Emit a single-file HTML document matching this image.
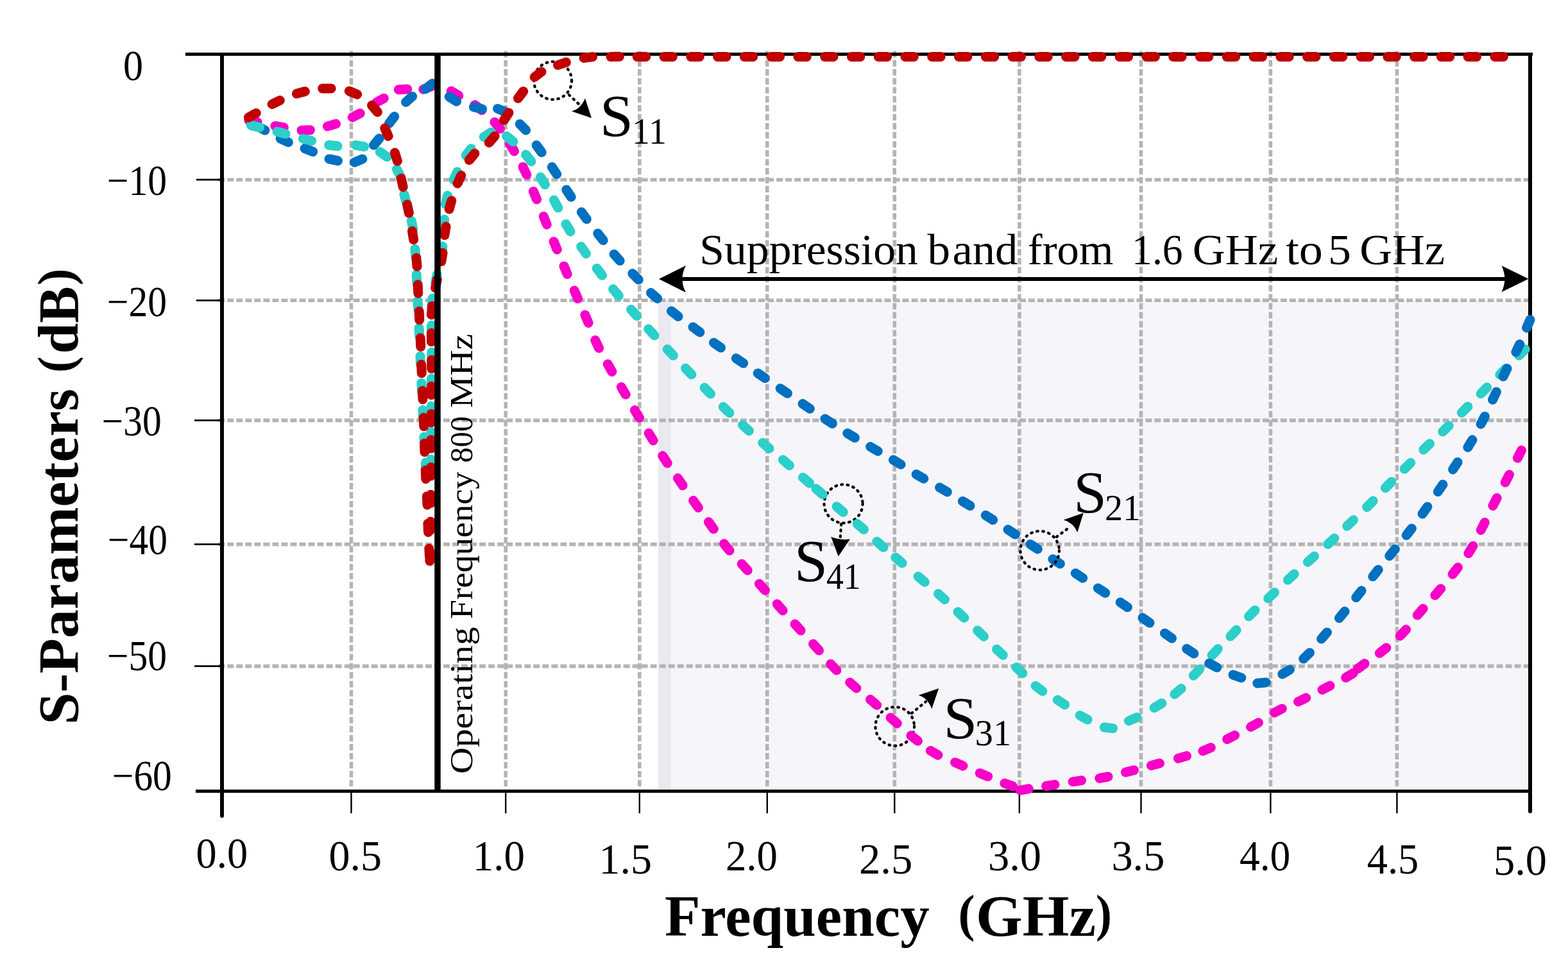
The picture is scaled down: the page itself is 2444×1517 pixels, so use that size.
<!DOCTYPE html>
<html><head><meta charset="utf-8"><title>S-Parameters</title>
<style>html,body{margin:0;padding:0;background:#fff;}svg{display:block;}</style>
</head><body>
<svg xmlns="http://www.w3.org/2000/svg" width="2444" height="1517" viewBox="0 0 2444 1517">
<rect width="2444" height="1517" fill="#fff"/>
<style>text{font-family:"Liberation Serif","Times New Roman",serif;fill:#000}</style>
<rect x="1026" y="468.3" width="1359" height="765.1000000000001" fill="#F6F5F9"/>
<rect x="1026" y="468.3" width="20" height="765.1000000000001" fill="#EBE9F0"/>
<path d="M340.3 280.2H2382M340.3 468.3H2382M340.3 655.4H2382M340.3 848.6H2382M340.3 1038.6H2382M547.5 79.6V1226M788.2 79.6V1226M996.8 79.6V1226M1195.8 79.6V1226M1394.3 79.6V1226M1588.9 79.6V1226M1778.5 79.6V1226M1980.4 79.6V1226M2177.4 79.6V1226" stroke="#B4B4B4" stroke-width="5.6" stroke-dasharray="10 4.03" fill="none"/>
<path d="M306 280.2H346M306 468.3H346M303 655.4H346M303 848.6H346M303 1038.6H346" stroke="#000" stroke-width="2.8" fill="none"/>
<path d="M547.5 1233.4V1268M788.2 1233.4V1268M996.8 1233.4V1268M1195.8 1233.4V1268M1394.3 1233.4V1268M1588.9 1233.4V1268M1778.5 1233.4V1268M1980.4 1233.4V1268M2177.4 1233.4V1268" stroke="#000" stroke-width="2.4" fill="none"/>
<path d="M289 84.4H2389" stroke="#000" stroke-width="5" fill="none"/>
<path d="M305 1233.4H2388" stroke="#000" stroke-width="5" fill="none"/>
<path d="M346 85V1272" stroke="#000" stroke-width="6" stroke-linecap="round" fill="none"/>
<path d="M2385 85V1265" stroke="#000" stroke-width="6" stroke-linecap="round" fill="none"/>
<circle cx="861.6" cy="125.7" r="29.5" stroke="#000" stroke-width="4.3" stroke-dasharray="1.6 7.6" stroke-linecap="round" fill="none"/><path d="M887 148L903 163" stroke="#000" stroke-width="4.3" stroke-dasharray="1.6 7.6" stroke-linecap="round" fill="none"/><path d="M922.0 184.0L891.0 173.4Q905.0 170.0 912.0 153.3Z" fill="#000"/>
<circle cx="1394.8" cy="1132.5" r="30.3" stroke="#000" stroke-width="4.3" stroke-dasharray="1.6 7.6" stroke-linecap="round" fill="none"/><path d="M1421 1112L1443 1094" stroke="#000" stroke-width="4.3" stroke-dasharray="1.6 7.6" stroke-linecap="round" fill="none"/><path d="M1463.2 1073.2L1431.6 1084.0Q1446.0 1088.0 1452.3 1105.2Z" fill="#000"/>
<circle cx="1314.6" cy="785.4" r="30" stroke="#000" stroke-width="4.3" stroke-dasharray="1.6 7.6" stroke-linecap="round" fill="none"/><path d="M1311.2 817L1309.8 838" stroke="#000" stroke-width="4.3" stroke-dasharray="1.6 7.6" stroke-linecap="round" fill="none"/><path d="M1306.7 867.6L1295.2 836.8Q1310.0 843.0 1325.0 840.4Z" fill="#000"/>
<path d="M387.9 187.6L401.1 190.4M428.9 196.5L442.3 198.7M470.0 203.2L483.4 202.8M510.5 196.9L523.5 193.1M549.3 182.9L561.3 176.7M586.5 159.8L598.3 153.2M621.3 139.7L634.7 138.9M659.7 139.3L672.3 134.7M703.2 142.0L714.8 149.0M740.2 163.6L751.0 171.8M771.0 190.4L779.6 200.8M794.5 224.2L801.5 235.8M815.1 260.2L820.9 272.4M831.4 298.4L836.6 310.8M847.3 337.4L852.3 350.0M863.1 376.7L868.3 389.1M879.0 415.0L884.2 427.4M895.2 453.0L900.6 465.4M911.9 491.0L917.1 503.4M927.8 530.5L933.6 542.7M947.3 567.7L953.9 579.5M968.4 603.5L975.2 615.1M989.4 639.6L996.4 651.2M1011.2 675.3L1018.2 686.9M1032.8 710.7L1040.2 722.1M1056.5 745.6L1064.1 756.8M1080.6 780.5L1088.4 791.5M1104.5 813.8L1112.3 824.8M1128.6 847.8L1137.0 858.4M1156.2 879.3L1165.2 889.3M1183.5 910.2L1192.5 920.4M1211.2 941.8L1220.2 952.0M1239.1 973.1L1248.1 983.1M1267.5 1004.1L1276.5 1014.1M1294.6 1035.3L1304.0 1044.9M1324.7 1064.0L1334.9 1073.0M1356.5 1090.6L1366.7 1099.4M1388.1 1118.9L1398.3 1127.9M1419.9 1146.8L1430.5 1155.2M1450.4 1170.4L1462.0 1177.2M1488.6 1188.7L1501.0 1194.1M1527.3 1205.4L1539.7 1210.6M1565.9 1221.2L1578.5 1225.8M1590.1 1232.2L1603.3 1229.8M1630.6 1225.5L1644.0 1223.3M1672.2 1218.8L1685.6 1216.8M1713.8 1213.4L1727.0 1211.0M1754.5 1204.1L1767.5 1200.7M1794.5 1193.5L1807.5 1190.1M1836.5 1182.4L1849.5 1178.6M1874.9 1170.8L1887.3 1165.6M1912.6 1152.5L1924.6 1146.3M1949.6 1133.3L1961.4 1126.7M1986.3 1111.1L1998.3 1104.9M2023.5 1093.9L2035.7 1088.1M2061.0 1075.3L2073.0 1069.1M2097.6 1056.5L2109.2 1049.5M2116.3 1042.6L2127.1 1034.6M2150.3 1018.3L2160.9 1009.9M2182.2 991.4L2191.6 981.6M2209.3 959.1L2218.1 948.9M2236.8 928.1L2245.6 917.9M2264.2 895.2L2272.4 884.6M2288.9 862.6L2295.9 851.2M2308.2 826.5L2314.2 814.5M2326.9 788.5L2333.1 776.5M2346.2 752.1L2352.4 740.1M2365.4 714.1L2371.4 702.1" stroke="#F800C8" stroke-width="15.0" stroke-linecap="round" fill="none"/>
<path d="M401.0 196.9L413.0 203.1M437.2 216.2L449.4 221.8M475.1 231.5L487.7 236.5M513.2 247.9L526.4 250.7M552.5 253.1L564.9 247.9M582.6 226.3L591.2 215.9M606.5 192.4L614.7 181.6M632.6 159.3L642.6 150.3M663.4 138.7L673.8 130.3M700.2 150.9L711.6 158.1M738.4 167.0L751.6 170.0M775.6 169.4L788.0 174.6M810.3 193.4L819.7 203.0M836.2 226.5L844.2 237.5M860.3 260.4L867.7 271.6M882.8 295.9L890.2 307.1M906.4 330.7L914.4 341.7M931.8 364.0L940.2 374.6M957.2 396.4L966.2 406.6M985.9 426.5L995.3 436.1" stroke="#0070C0" stroke-width="15.0" stroke-linecap="round" fill="none"/>
<path d="M391.4 195.4L404.6 198.6M432.1 205.3L445.1 208.7M472.4 216.3L485.6 219.5M512.7 226.2L526.1 227.8M554.4 226.3L567.6 228.7M592.3 236.9L603.3 244.7M618.5 263.7L624.5 275.9M630.0 303.1L633.4 316.1M641.4 344.4L643.8 357.6M646.9 388.3L648.1 401.7M649.2 427.9L649.8 441.3M651.2 469.3L651.8 482.7M653.2 511.3L653.8 524.7M655.0 555.3L655.6 568.7M656.9 597.3L657.5 610.7M658.9 639.3L659.5 652.7M660.9 681.3L661.7 694.7M663.5 721.2L663.5 734.8M671.7 729.8L671.7 716.2M671.9 686.7L671.9 673.3M672.1 646.7L672.1 633.3M672.4 603.7L672.4 590.3M672.7 562.8L672.7 549.2M672.3 520.7L672.5 507.3M672.9 478.7L674.1 465.3M678.7 441.2L681.3 428.0M688.1 397.7L689.9 384.3M691.4 355.7L692.6 342.3M694.4 318.2L697.6 305.0M707.2 280.1L712.8 267.9M726.2 242.3L734.4 231.7M754.3 213.4L765.7 206.2M789.6 212.3L800.0 220.9M819.6 241.1L828.0 251.7M842.5 276.2L849.5 287.8M863.5 312.0L869.9 323.8M882.1 349.4L889.1 361.0M905.7 384.5L913.5 395.5M930.3 418.4L938.5 429.2M955.6 450.8L964.4 461.2M983.6 482.5L992.6 492.5M1010.8 513.0L1020.0 523.0M1040.2 544.5L1049.4 554.3M1068.5 574.3L1077.9 583.9M1098.1 604.5L1107.5 614.1M1127.3 634.3L1136.9 643.7M1157.5 662.8L1167.5 671.8M1188.8 690.4L1199.0 699.2M1220.3 716.9L1230.5 725.7M1251.5 744.4L1261.7 753.2M1272.1 762.1L1282.3 770.9M1304.1 789.7L1314.3 798.5M1336.2 816.7L1346.4 825.5M1366.9 844.3L1377.1 853.3M1395.8 869.1L1406.2 877.9M1431.2 898.8L1441.4 907.6M1462.5 925.7L1472.5 934.7M1493.1 954.0L1502.9 963.2M1523.7 983.0L1533.5 992.4M1553.5 1012.2L1563.3 1021.4M1584.1 1040.5L1593.9 1049.7M1614.1 1069.4L1624.9 1077.6M1648.3 1091.3L1659.7 1098.7M1683.3 1115.5L1695.1 1121.9M1721.3 1134.0L1734.7 1135.6M1759.5 1124.0L1771.9 1118.4M1799.2 1103.5L1810.8 1096.5M1830.9 1082.4L1841.1 1073.6M1860.3 1053.4L1869.5 1043.6M1889.1 1021.6L1898.3 1011.8M1917.8 992.1L1927.2 982.3M1946.5 961.0L1956.1 951.4M1976.7 932.9L1986.5 923.7M2007.3 904.2L2017.3 895.0M2038.4 876.3L2048.4 867.3M2069.8 848.4L2079.8 839.2M2099.7 820.2L2109.5 810.8M2130.6 790.6L2140.2 781.0M2159.4 760.8L2168.8 751.2M2189.1 731.1L2198.7 721.5M2218.8 701.2L2228.4 691.8M2248.6 673.1L2258.2 663.7M2278.3 643.5L2287.9 633.9M2308.1 613.7L2317.7 604.1M2337.8 584.0L2347.4 574.4M2367.6 554.2L2377.2 544.6" stroke="#2CCFC9" stroke-width="15.0" stroke-linecap="round" fill="none"/>
<path d="M1014.5 456.6L1024.7 465.4M1046.5 485.0L1057.1 493.4M1080.1 510.0L1090.9 518.0M1112.5 534.3L1123.5 542.1M1147.4 558.7L1158.6 566.3M1181.3 582.0L1192.5 589.6M1216.2 605.7L1227.4 613.3M1251.1 629.6L1262.3 637.2M1285.9 653.0L1297.3 660.4M1320.8 675.5L1332.4 682.5M1356.7 696.6L1368.3 703.4M1392.5 717.1L1404.1 724.1M1428.2 739.5L1439.8 746.3M1464.7 760.1L1476.3 766.9M1500.4 781.5L1512.0 788.5M1536.3 803.4L1547.7 810.6M1571.1 825.7L1582.5 833.1M1606.1 848.7L1617.3 856.1M1641.0 871.8L1652.4 879.0M1676.3 893.8L1687.7 901.2M1711.3 917.0L1722.7 924.4M1746.2 939.1L1757.4 946.7M1781.0 963.3L1792.0 971.1M1815.5 987.4L1826.5 995.2M1849.7 1011.6L1860.9 1019.0M1884.7 1034.2L1896.7 1040.6M1922.0 1052.1L1934.8 1056.7M1959.8 1065.2L1973.2 1064.0M1998.8 1051.0L2010.4 1044.0M2031.6 1027.1L2041.4 1017.7M2059.6 996.1L2068.4 985.9M2087.4 963.7L2096.0 953.3M2113.7 931.6L2122.1 921.0M2139.8 898.8L2148.2 888.2M2165.7 866.7L2174.3 856.3M2192.2 834.5L2200.4 823.9M2217.1 801.2L2224.9 790.2M2241.3 766.6L2248.9 755.4M2264.6 731.9L2272.0 720.7M2287.9 697.4L2294.9 685.8M2308.1 661.2L2314.3 649.2M2326.5 623.3L2332.3 611.1M2343.0 586.9L2349.0 574.7M2362.9 548.9L2368.7 536.7M2379.6 511.0L2385.0 498.6" stroke="#0070C0" stroke-width="15.0" stroke-linecap="round" fill="none"/>
<circle cx="1620.7" cy="858.3" r="30.3" stroke="#000" stroke-width="4.3" stroke-dasharray="1.6 7.6" stroke-linecap="round" fill="none"/><path d="M1647 837L1667 822" stroke="#000" stroke-width="4.3" stroke-dasharray="1.6 7.6" stroke-linecap="round" fill="none"/><path d="M1688.8 799.7L1657.8 810.6Q1673.0 815.0 1679.3 830.0Z" fill="#000"/>
<path d="M387.4 183.1L399.2 176.5M424.1 162.4L436.3 156.6M462.4 146.1L475.4 142.5M502.7 137.9L516.1 137.9M544.3 142.0L556.7 147.2M579.6 164.3L588.4 174.7M599.8 199.8L605.2 212.2M615.4 238.1L619.4 251.1M625.2 278.2L628.2 291.4M634.6 318.9L637.4 332.1M642.5 360.3L644.7 373.7M648.9 402.1L650.1 415.5M651.2 443.8L651.8 457.2M653.2 485.3L653.8 498.7M655.2 527.1L655.8 540.5M656.7 568.3L657.3 581.7M658.4 609.3L659.0 622.7M660.2 651.3L660.8 664.7M661.6 691.3L662.0 704.7M663.2 733.3L663.8 746.7M665.4 773.8L666.0 787.2M667.0 816.3L667.6 829.7M668.8 855.3L669.6 868.7M669.9 874.7L670.5 861.3M670.9 826.7L671.1 813.3M671.2 784.7L671.4 771.3M671.7 741.9L671.7 728.5M671.9 699.1L671.9 685.7M672.1 658.7L672.1 645.3M672.4 615.7L672.4 602.3M672.7 574.8L672.7 561.2M672.4 532.7L672.4 519.3M672.4 490.7L673.6 477.3M678.7 449.1L681.3 435.9M687.9 407.7L690.1 394.3M692.9 366.7L695.1 353.3M700.2 326.0L703.8 313.0M713.2 286.0L718.8 273.6M731.3 249.6L739.9 239.2M762.3 222.4L771.1 212.2M785.5 187.3L792.9 175.9M807.5 153.2L815.7 142.4M833.2 120.1L844.0 111.9M869.6 101.5L882.4 97.1M910.1 90.4L923.5 88.6M952.0 88.5L965.4 88.3M993.2 88.4L1006.8 88.4M1035.0 88.4L1048.5 88.4M1076.8 88.4L1090.3 88.4M1118.6 88.4L1132.1 88.4M1160.3 88.4L1173.8 88.4M1202.1 88.4L1215.6 88.4M1243.9 88.4L1257.4 88.4M1285.6 88.4L1299.1 88.4M1327.4 88.4L1340.9 88.4M1369.2 88.4L1382.7 88.4M1410.9 88.4L1424.4 88.4M1452.7 88.4L1466.2 88.4M1494.5 88.4L1508.0 88.4M1536.3 88.4L1549.8 88.4M1578.0 88.4L1591.5 88.4M1619.8 88.4L1633.3 88.4M1661.6 88.4L1675.1 88.4M1703.3 88.4L1716.8 88.4M1745.1 88.4L1758.6 88.4M1786.9 88.4L1800.4 88.4M1828.6 88.4L1842.1 88.4M1870.4 88.4L1883.9 88.4M1912.2 88.4L1925.7 88.4M1954.0 88.4L1967.5 88.4M1995.7 88.4L2009.2 88.4M2037.5 88.4L2051.0 88.4M2079.3 88.4L2092.8 88.4M2121.0 88.4L2134.5 88.4M2162.8 88.4L2176.3 88.4M2204.6 88.4L2218.1 88.4M2246.3 88.4L2259.8 88.4M2288.1 88.4L2301.6 88.4M2329.9 88.4L2343.4 88.4" stroke="#C00000" stroke-width="15.0" stroke-linecap="round" fill="none"/>
<path d="M682 84.4V1233.4" stroke="#000" stroke-width="9.5" fill="none"/>
<text x="192.0" y="125.2" font-size="66.8" textLength="31.1" lengthAdjust="spacingAndGlyphs">0</text>
<text x="166.9" y="304.3" font-size="66.8" textLength="93.2" lengthAdjust="spacingAndGlyphs">−10</text>
<text x="167.0" y="493.1" font-size="66.8" textLength="93.0" lengthAdjust="spacingAndGlyphs">−20</text>
<text x="158.8" y="679.3" font-size="66.8" textLength="93.0" lengthAdjust="spacingAndGlyphs">−30</text>
<text x="167.9" y="864.3" font-size="66.8" textLength="93.0" lengthAdjust="spacingAndGlyphs">−40</text>
<text x="166.9" y="1045.3" font-size="66.8" textLength="93.2" lengthAdjust="spacingAndGlyphs">−50</text>
<text x="174.9" y="1232.2" font-size="66.8" textLength="92.9" lengthAdjust="spacingAndGlyphs">−60</text>
<text x="305.6" y="1353.2" font-size="66.8" textLength="80.5" lengthAdjust="spacingAndGlyphs">0.0</text>
<text x="512.5" y="1356.6" font-size="66.8" textLength="82.6" lengthAdjust="spacingAndGlyphs">0.5</text>
<text x="736.7" y="1356.6" font-size="66.8" textLength="81.3" lengthAdjust="spacingAndGlyphs">1.0</text>
<text x="933.4" y="1362.4" font-size="66.8" textLength="82.6" lengthAdjust="spacingAndGlyphs">1.5</text>
<text x="1130.9" y="1356.6" font-size="66.8" textLength="81.1" lengthAdjust="spacingAndGlyphs">2.0</text>
<text x="1339.0" y="1362.4" font-size="66.8" textLength="83.3" lengthAdjust="spacingAndGlyphs">2.5</text>
<text x="1539.9" y="1356.6" font-size="66.8" textLength="83.2" lengthAdjust="spacingAndGlyphs">3.0</text>
<text x="1732.4" y="1356.6" font-size="66.8" textLength="82.9" lengthAdjust="spacingAndGlyphs">3.5</text>
<text x="1931.9" y="1356.6" font-size="66.8" textLength="79.4" lengthAdjust="spacingAndGlyphs">4.0</text>
<text x="2130.8" y="1362.4" font-size="66.8" textLength="80.4" lengthAdjust="spacingAndGlyphs">4.5</text>
<text x="2327.9" y="1364.2" font-size="66.8" textLength="83.1" lengthAdjust="spacingAndGlyphs">5.0</text>
<text x="1035.9" y="1458.9" font-size="90" font-weight="bold" textLength="412.8" lengthAdjust="spacingAndGlyphs">Frequency</text>
<text x="1493.5" y="1451.1" font-size="80" font-weight="bold" textLength="26.0" lengthAdjust="spacingAndGlyphs">(</text>
<text x="1521.0" y="1458.8" font-size="90" font-weight="bold" textLength="187.0" lengthAdjust="spacingAndGlyphs">GHz</text>
<text x="1708.0" y="1451.1" font-size="80" font-weight="bold" textLength="25.0" lengthAdjust="spacingAndGlyphs">)</text>
<text transform="translate(121 1129.8) rotate(-90)" font-size="88" font-weight="bold" textLength="523.8" lengthAdjust="spacingAndGlyphs">S-Parameters</text>
<text transform="translate(113.3 581.0) rotate(-90)" font-size="79.2" font-weight="bold" textLength="25.5" lengthAdjust="spacingAndGlyphs">(</text>
<text transform="translate(121 551.5) rotate(-90)" font-size="88" font-weight="bold" textLength="105.0" lengthAdjust="spacingAndGlyphs">dB</text>
<text transform="translate(113.3 445.0) rotate(-90)" font-size="79.2" font-weight="bold" textLength="26.5" lengthAdjust="spacingAndGlyphs">)</text>
<text transform="translate(736.1 1206.4) rotate(-90)" font-size="49.8" textLength="229.0" lengthAdjust="spacingAndGlyphs">Operating</text>
<text transform="translate(736.1 965.3) rotate(-90)" font-size="49.8" textLength="229.9" lengthAdjust="spacingAndGlyphs">Frequency</text>
<text transform="translate(736.1 721.5) rotate(-90)" font-size="49.8" textLength="72.6" lengthAdjust="spacingAndGlyphs">800</text>
<text transform="translate(736.1 636.0) rotate(-90)" font-size="49.8" textLength="115.5" lengthAdjust="spacingAndGlyphs">MHz</text>
<text x="1090.3" y="411.9" font-size="67" textLength="340.5" lengthAdjust="spacingAndGlyphs">Suppression</text>
<text x="1445.4" y="411.9" font-size="67" textLength="35.5" lengthAdjust="spacingAndGlyphs">b</text>
<text x="1484.4" y="411.9" font-size="67" textLength="102.0" lengthAdjust="spacingAndGlyphs">and</text>
<text x="1601.8" y="411.9" font-size="67" textLength="133.6" lengthAdjust="spacingAndGlyphs">from</text>
<text x="1764.1" y="411.9" font-size="67" textLength="79.5" lengthAdjust="spacingAndGlyphs">1.6</text>
<text x="1858.7" y="411.9" font-size="67" textLength="133.5" lengthAdjust="spacingAndGlyphs">GHz</text>
<text x="2004.3" y="411.9" font-size="67" textLength="57.6" lengthAdjust="spacingAndGlyphs">to</text>
<text x="2070.0" y="411.9" font-size="67" textLength="35.9" lengthAdjust="spacingAndGlyphs">5</text>
<text x="2119.2" y="411.9" font-size="67" textLength="132.8" lengthAdjust="spacingAndGlyphs">GHz</text>
<text x="935.0" y="212.1" font-size="93.75" textLength="52.0" lengthAdjust="spacingAndGlyphs">S</text>
<text x="985.0" y="224" font-size="56.2" textLength="54.0" lengthAdjust="spacingAndGlyphs">11</text>
<text x="1673.3" y="799.1" font-size="93.75" textLength="51.7" lengthAdjust="spacingAndGlyphs">S</text>
<text x="1722.0" y="811" font-size="56.2" textLength="56.0" lengthAdjust="spacingAndGlyphs">21</text>
<text x="1470.5" y="1151.1" font-size="93.75" textLength="52.8" lengthAdjust="spacingAndGlyphs">S</text>
<text x="1519.8" y="1161.5" font-size="56.2" textLength="56.2" lengthAdjust="spacingAndGlyphs">31</text>
<text x="1237.9" y="906.3" font-size="93.75" textLength="52.1" lengthAdjust="spacingAndGlyphs">S</text>
<text x="1287.9" y="918" font-size="56.2" textLength="53.9" lengthAdjust="spacingAndGlyphs">41</text>
<path d="M1050 435H2360" stroke="#000" stroke-width="5.8" fill="none"/>
<path d="M1027.0 435.0L1069.0 414.0Q1058.0 435.0 1069.0 456.0Z" fill="#000"/>
<path d="M2382.5 434.8L2340.6 414.3Q2350.0 435.0 2340.6 455.3Z" fill="#000"/>
</svg>
</body></html>
